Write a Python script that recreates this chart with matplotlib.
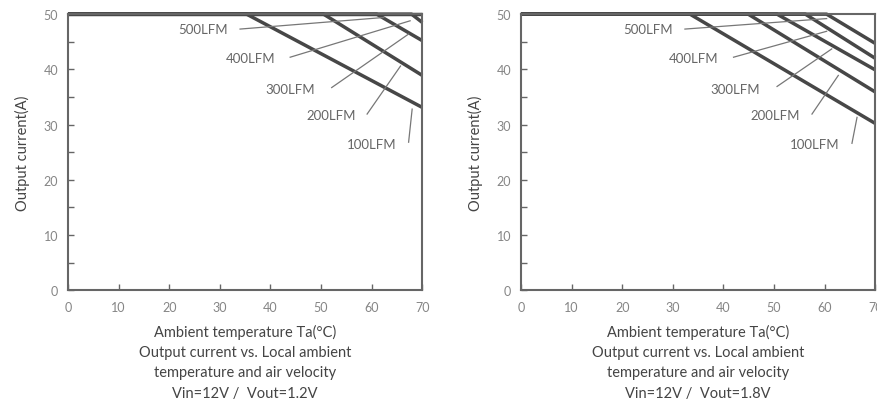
import numpy as np
import matplotlib.pyplot as plt

plt.rcParams['font.family'] = ['Lato', 'DejaVu Sans']

flows = ['100LFM', '200LFM', '300LFM', '400LFM', '500LFM']

# derating: full 50 A up to knee temperature, then straight down to value at 70 C
left_knee = [35.3, 50.5, 61.0, 67.9, 70.0]
left_end = [33.1, 38.9, 45.2, 48.5, 50.0]
right_knee = [33.4, 44.9, 50.6, 56.2, 60.4]
right_end = [30.2, 35.9, 39.9, 42.0, 44.7]

# label text position, leader start, leader tip (data coords)
left_lbl = [(60.1, 26.4), (52.1, 31.7), (43.9, 36.5), (36.0, 42.0), (26.7, 47.3)]
left_from = [(67.3, 26.8), (59.1, 31.9), (52.1, 36.7), (43.9, 42.2), (34.0, 47.3)]
left_tip = [(68.0, 32.8), (65.7, 40.6), (67.3, 46.4), (67.6, 48.8), (62.4, 49.4)]
right_lbl = [(58.1, 26.4), (50.2, 31.7), (42.3, 36.5), (34.1, 42.0), (25.2, 47.3)]
right_from = [(65.4, 26.6), (57.5, 31.9), (50.6, 36.9), (42.0, 42.2), (32.4, 47.3)]
right_tip = [(66.4, 31.3), (62.7, 38.9), (61.4, 43.7), (60.4, 46.9), (60.4, 49.2)]

x_ticks = [0, 10, 20, 30, 40, 50, 60, 70]
y_ticks = [0, 10, 20, 30, 40, 50]

gray = '#666666'
line_c = '#474747'

fig = plt.figure(figsize=(8.77, 4.10), dpi=100)
ax1 = fig.add_axes([0.0775, 0.290, 0.404, 0.673])
ax2 = fig.add_axes([0.594, 0.290, 0.404, 0.673])


def draw(ax, knee, end, lbl, frm, tip, vout):
    for k, e in zip(knee, end):
        ax.plot([0, k, 70], [50, 50, e], color=line_c, lw=2.5,
                solid_capstyle='butt', clip_on=False)
    for name, p, f, t in zip(flows, lbl, frm, tip):
        ax.text(p[0], p[1], name, ha='center', va='center', fontsize=9.5, color=gray)
        ax.plot([f[0], t[0]], [f[1], t[1]], color='#777777', lw=0.9)
    ax.set_xlim(0, 70)
    ax.set_ylim(0, 50)
    ax.set_xticks(x_ticks)
    ax.set_yticks(y_ticks)
    ax.set_yticks(np.arange(5, 50, 10), minor=True)
    ax.tick_params(direction='in', length=4, width=1, color=gray,
                   labelcolor='#858585', labelsize=9, pad=7)
    ax.tick_params(axis='y', which='minor', direction='in', length=4,
                   width=1, color=gray)
    ax.tick_params(axis='x', pad=8)
    for s in ax.spines.values():
        s.set_color(gray)
        s.set_linewidth(1.5)
    ax.set_ylabel('Output current(A)', fontsize=10.5, color='#444444', labelpad=10)
    ax.set_xlabel('Ambient temperature Ta(°C)\nOutput current vs. Local ambient\n'
                  'temperature and air velocity\nVin=12V /  Vout=' + vout,
                  fontsize=10.5, color='#444444', linespacing=1.55, labelpad=8)


draw(ax1, left_knee, left_end, left_lbl, left_from, left_tip, '1.2V')
draw(ax2, right_knee, right_end, right_lbl, right_from, right_tip, '1.8V')

fig.savefig('out.png', dpi=100)
